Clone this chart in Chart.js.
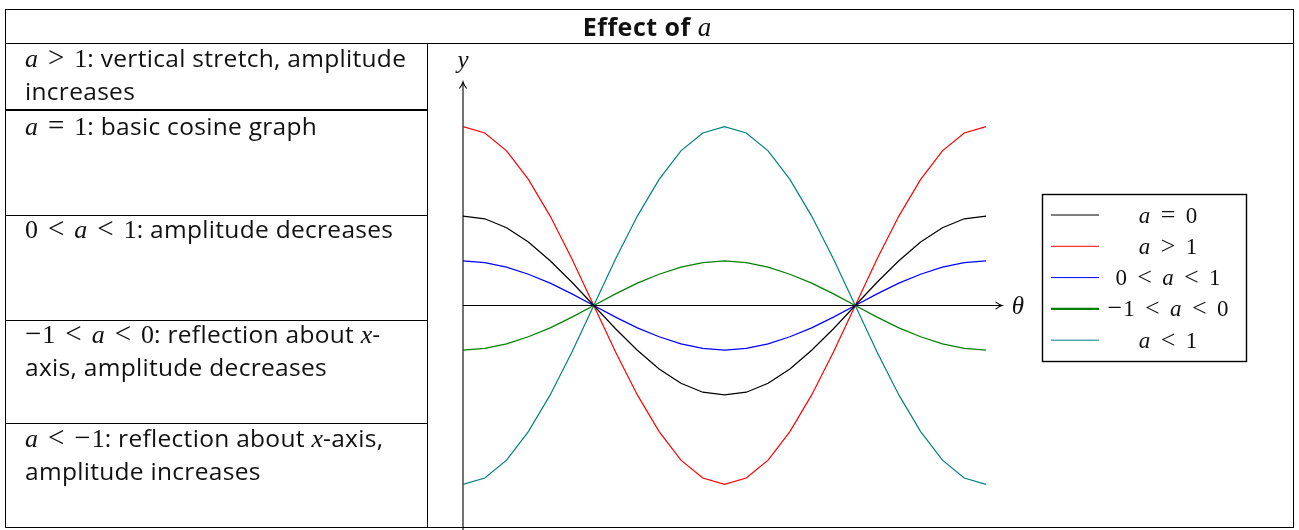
<!DOCTYPE html>
<html><head><meta charset="utf-8">
<script src="https://cdn.jsdelivr.net/npm/chart.js@4.4.0/dist/chart.umd.min.js"></script>
<style>
html,body{margin:0;padding:0;background:#fff;}
#wrap{position:relative;width:1299px;height:530px;overflow:hidden;background:#fff;}
.ln{position:absolute;background:#000;z-index:2;}
.txt{position:absolute;left:25px;font-family:"Open Sans",Lato,sans-serif;font-size:24.5px;letter-spacing:0.3px;line-height:32px;white-space:nowrap;color:#111;z-index:2;}
.m{font-family:"Liberation Serif",serif;font-size:26px;letter-spacing:0;}
.mi{font-family:"Liberation Serif",serif;font-style:italic;font-size:26px;letter-spacing:0;}
.r{font-family:"Liberation Serif",serif;font-size:29px;margin:0 10px;letter-spacing:0;}
.mn{font-family:"Liberation Serif",serif;font-size:29px;margin-right:1px;letter-spacing:0;}
#title{position:absolute;left:3px;width:1288px;top:9px;height:34px;line-height:34px;text-align:center;font-family:"Open Sans",Lato,sans-serif;font-weight:bold;font-size:25px;color:#111;z-index:2;letter-spacing:0.5px;}
#title .mi{font-weight:normal;font-size:27px;}
canvas{position:absolute;left:0;top:0;z-index:1;}
</style></head>
<body>
<div id="wrap">
  <div id="title">Effect of <span class="mi">a</span></div>
  <!-- table lines -->
  <div class="ln" style="left:5px;top:9px;width:1289px;height:1px;"></div>
  <div class="ln" style="left:5px;top:527px;width:1289px;height:1px;"></div>
  <div class="ln" style="left:5px;top:9px;width:1px;height:519px;"></div>
  <div class="ln" style="left:1293px;top:9px;width:1px;height:519px;"></div>
  <div class="ln" style="left:5px;top:43px;width:1289px;height:1px;"></div>
  <div class="ln" style="left:427px;top:43px;width:1px;height:485px;"></div>
  <div class="ln" style="left:5px;top:109px;width:422px;height:2px;"></div>
  <div class="ln" style="left:5px;top:215px;width:422px;height:1px;"></div>
  <div class="ln" style="left:5px;top:320px;width:422px;height:1px;"></div>
  <div class="ln" style="left:5px;top:423px;width:422px;height:1px;"></div>
  <!-- cell texts -->
  <div class="txt" style="top:41px;"><span class="mi">a</span><span class="r">&gt;</span><span class="m">1</span>: vertical stretch, amplitude<br>increases</div>
  <div class="txt" style="top:109px;"><span class="mi">a</span><span class="r">=</span><span class="m">1</span>: basic cosine graph</div>
  <div class="txt" style="top:212px;"><span class="m">0</span><span class="r">&lt;</span><span class="mi">a</span><span class="r">&lt;</span><span class="m">1</span>: amplitude decreases</div>
  <div class="txt" style="top:317px;"><span class="mn">−</span><span class="m">1</span><span class="r">&lt;</span><span class="mi">a</span><span class="r">&lt;</span><span class="m">0</span>: reflection about <span class="mi">x</span>-<br>axis, amplitude decreases</div>
  <div class="txt" style="top:421px;"><span class="mi">a</span><span class="r">&lt;</span><span class="mn">−</span><span class="m">1</span>: reflection about <span class="mi">x</span>-axis,<br>amplitude increases</div>
  <canvas id="c" width="1299" height="530"></canvas>
</div>
<script>
// ---- data ----
const theta = [0,15,30,45,60,75,90,105,120,135,150,165,180,195,210,225,240,255,270,285,300,315,330,345,360];
const seriesLabels = ["a = 0", "a > 1", "0 < a < 1", "−1 < a < 0", "a < 1"];
const blackVals = [1.00,0.97,0.87,0.71,0.50,0.26,0,-0.26,-0.50,-0.71,-0.87,-0.97,-1.00,-0.97,-0.87,-0.71,-0.50,-0.26,0,0.26,0.50,0.71,0.87,0.97,1.00];
const redVals   = [2.00,1.93,1.73,1.41,1.00,0.52,0,-0.52,-1.00,-1.41,-1.73,-1.93,-2.00,-1.93,-1.73,-1.41,-1.00,-0.52,0,0.52,1.00,1.41,1.73,1.93,2.00];
const blueVals  = [0.50,0.48,0.43,0.35,0.25,0.13,0,-0.13,-0.25,-0.35,-0.43,-0.48,-0.50,-0.48,-0.43,-0.35,-0.25,-0.13,0,0.13,0.25,0.35,0.43,0.48,0.50];
const greenVals = [-0.50,-0.48,-0.43,-0.35,-0.25,-0.13,0,0.13,0.25,0.35,0.43,0.48,0.50,0.48,0.43,0.35,0.25,0.13,0,-0.13,-0.25,-0.35,-0.43,-0.48,-0.50];
const tealVals  = [-2.00,-1.93,-1.73,-1.41,-1.00,-0.52,0,0.52,1.00,1.41,1.73,1.93,2.00,1.93,1.73,1.41,1.00,0.52,0,-0.52,-1.00,-1.41,-1.73,-1.93,-2.00];
const xAxisLabel = "θ";
const yAxisLabel = "y";

// ---- styles ----
const seriesValues = [blackVals, redVals, blueVals, greenVals, tealVals];
const seriesColors = ["#000000", "#ff0000", "#0000ff", "#008000", "#008080"];
const legendWidths = [1, 1, 1, 2.2, 1];

const datasets = seriesValues.map((vals, i) => ({
  label: seriesLabels[i],
  data: vals.map((v, j) => ({x: theta[j], y: v})),
  borderColor: seriesColors[i],
  backgroundColor: seriesColors[i],
  borderWidth: 1.2,
  pointRadius: 0,
  tension: 0,
  fill: false
}));

// draw a small math expression: italic letters, upright digits, wide relations
function drawMath(ctx, text, cx, cy, size) {
  const toks = text.split(' ');
  const reg = size + 'px "Liberation Serif", serif';
  const ita = 'italic ' + size + 'px "Liberation Serif", serif';
  const rel = Math.round(size * 1.13) + 'px "Liberation Serif", serif';
  const isLetter = t => /^[a-zθ]$/.test(t);
  const isRel = t => /^[<>=]$/.test(t);
  const gap = size * 0.45;
  const parts = [];
  toks.forEach(t => {
    if (/^−\d$/.test(t)) {
      parts.push({t: '−', f: rel, extra: 1, gapAfter: false});
      parts.push({t: t.slice(1), f: reg, gapAfter: true});
    } else {
      parts.push({t, f: isLetter(t) ? ita : (isRel(t) ? rel : reg), gapAfter: true});
    }
  });
  let total = 0;
  parts.forEach((p, i) => {
    ctx.font = p.f;
    p.w = ctx.measureText(p.t).width + (p.extra || 0);
    total += p.w;
    if (p.gapAfter && i < parts.length - 1) total += gap;
  });
  let x = cx - total / 2;
  ctx.textBaseline = 'alphabetic';
  ctx.textAlign = 'left';
  parts.forEach((p, i) => {
    ctx.font = p.f;
    ctx.fillText(p.t, x, cy + size * 0.33);
    x += p.w;
    if (p.gapAfter && i < parts.length - 1) x += gap;
  });
}

function arrow(ctx, x, y, dir) {
  ctx.save();
  ctx.translate(x, y);
  ctx.rotate(dir);
  ctx.beginPath();
  ctx.moveTo(-6.5, -3.6);
  ctx.quadraticCurveTo(-2.5, -0.6, 0, 0);
  ctx.quadraticCurveTo(-2.5, 0.6, -6.5, 3.6);
  ctx.stroke();
  ctx.restore();
}

const axesPlugin = {
  id: 'axesPlugin',
  beforeDatasetsDraw(chart) {
    const ctx = chart.ctx, xs = chart.scales.x, ys = chart.scales.y;
    const x0 = xs.getPixelForValue(0), y0 = ys.getPixelForValue(0);
    const xEnd = xs.getPixelForValue(xs.max), yTop = ys.getPixelForValue(ys.max);
    ctx.save();
    ctx.strokeStyle = '#000';
    ctx.lineWidth = 1.1;
    ctx.beginPath();
    ctx.moveTo(x0, chart.height);
    ctx.lineTo(x0, yTop + 0.5);
    ctx.moveTo(x0, y0);
    ctx.lineTo(xEnd - 0.5, y0);
    ctx.stroke();
    arrow(ctx, x0, yTop, -Math.PI / 2);
    arrow(ctx, xEnd, y0, 0);
    ctx.restore();
  },
  afterDatasetsDraw(chart) {
    const ctx = chart.ctx, xs = chart.scales.x, ys = chart.scales.y;
    const x0 = xs.getPixelForValue(0), y0 = ys.getPixelForValue(0);
    const xEnd = xs.getPixelForValue(xs.max), yTop = ys.getPixelForValue(ys.max);
    ctx.save();
    ctx.fillStyle = '#111';
    drawMath(ctx, yAxisLabel, x0, yTop - 22, 25);
    drawMath(ctx, xAxisLabel, xEnd + 16, y0, 25);
    // legend
    const bx = 1042, by = 194, bw = 204, bh = 167;
    ctx.fillStyle = '#fff';
    ctx.fillRect(bx, by, bw, bh);
    ctx.strokeStyle = '#000';
    ctx.lineWidth = 1.4;
    ctx.strokeRect(bx + 0.5, by + 0.5, bw, bh);
    chart.data.datasets.forEach((ds, i) => {
      const ry = 215 + i * 31.3;
      ctx.strokeStyle = ds.borderColor;
      ctx.lineWidth = legendWidths[i];
      ctx.beginPath();
      ctx.moveTo(1051, ry);
      ctx.lineTo(1099, ry);
      ctx.stroke();
      ctx.fillStyle = '#111';
      drawMath(ctx, ds.label, 1168, ry, 23);
    });
    ctx.restore();
  }
};

new Chart(document.getElementById('c'), {
  type: 'line',
  data: { datasets },
  options: {
    responsive: false,
    animation: false,
    devicePixelRatio: 1,
    layout: { padding: { left: 463, right: 297, top: 82, bottom: 1 } },
    scales: {
      x: { type: 'linear', min: 0, max: 371, display: false },
      y: { type: 'linear', min: -2.5, max: 2.5, display: false }
    },
    plugins: { legend: { display: false }, tooltip: { enabled: false }, title: { display: false } },
    elements: { line: { borderCapStyle: 'butt', borderJoinStyle: 'miter' } }
  },
  plugins: [axesPlugin]
});
</script>
</body></html>
